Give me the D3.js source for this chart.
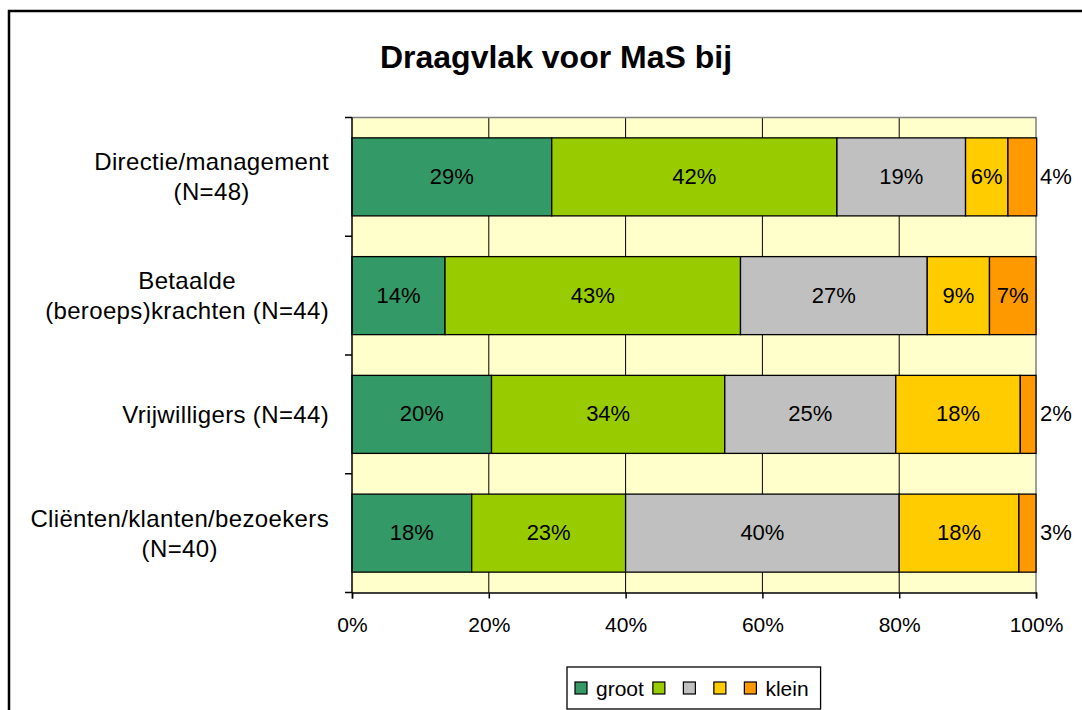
<!DOCTYPE html>
<html>
<head>
<meta charset="utf-8">
<script src="https://cdn.jsdelivr.net/npm/d3@7"></script>
<style>
body { margin: 0; background: #fff; }
text { font-family: "Liberation Sans", Arial, sans-serif; fill: #000; }
</style>
</head>
<body>
<svg width="1082" height="710"></svg>
<script>
var categories = ["Directie/management\n(N=48)", "Betaalde\n(beroeps)krachten (N=44)", "Vrijwilligers (N=44)", "Cliënten/klanten/bezoekers\n(N=40)"];
var seriesNames = ["groot", "", "", "", "klein"];
var seriesColors = ["#339966", "#99cc00", "#c0c0c0", "#ffcc00", "#ff9900"];
// percentages per category, in series order (groot ... klein)
var s1 = [29.2, 41.7, 18.8, 6.2, 4.2];
var s2 = [13.6, 43.2, 27.3, 9.1, 6.8];
var s3 = [20.4, 34.1, 25.0, 18.2, 2.3];
var s4 = [17.5, 22.5, 40.0, 17.5, 2.5];
var values = [s1, s2, s3, s4];
var xTicks = [0, 20, 40, 60, 80, 100];

var svg = d3.select("svg");

// outer chart border (runs off the right and bottom)
svg.append("rect")
    .attr("x", 9).attr("y", 11)
    .attr("width", 1200).attr("height", 800)
    .attr("fill", "none")
    .attr("stroke", "#000")
    .attr("stroke-width", 2.5);

svg.append("text")
    .text("Draagvlak voor MaS bij")
    .attr("x", 556).attr("y", 68)
    .attr("text-anchor", "middle")
    .style("font-size", "32px")
    .style("font-weight", "bold");

var pLeft = 352, pRight = 1036, pTop = 117.5, pBottom = 592.5;

var x = d3.scaleLinear().domain([0, 100]).range([pLeft, pRight]);
var y = d3.scaleBand().domain(categories).range([pTop, pBottom])
    .paddingInner(0.343).paddingOuter(0.1715);

// plot area
svg.append("rect")
    .attr("x", pLeft).attr("y", pTop)
    .attr("width", pRight - pLeft).attr("height", pBottom - pTop)
    .attr("fill", "#ffffcc");

// gridlines
svg.selectAll(".grid").data(xTicks.slice(1, -1)).enter()
    .append("line")
    .attr("x1", function (d) { return x(d); })
    .attr("x2", function (d) { return x(d); })
    .attr("y1", pTop).attr("y2", pBottom)
    .attr("stroke", "#000").attr("stroke-width", 1);

// plot border top/right in grey
svg.append("path")
    .attr("d", "M" + pLeft + "," + pTop + "H" + pRight + "V" + pBottom)
    .attr("fill", "none").attr("stroke", "#808080").attr("stroke-width", 1.5);

// stacked segments
var rows = values.map(function (vals, i) {
    var start = 0;
    return vals.map(function (v, j) {
        var seg = { cat: categories[i], series: j, v: v, x0: start, x1: start + v };
        start += v;
        return seg;
    });
});

var bars = svg.selectAll(".row").data(rows).enter().append("g");

bars.selectAll("rect").data(function (d) { return d; }).enter()
    .append("rect")
    .attr("x", function (d) { return x(d.x0); })
    .attr("y", function (d) { return y(d.cat); })
    .attr("width", function (d) { return x(d.x1) - x(d.x0); })
    .attr("height", y.bandwidth())
    .attr("fill", function (d) { return seriesColors[d.series]; })
    .attr("stroke", "#000")
    .attr("stroke-width", 1.3);

bars.selectAll("text").data(function (d) { return d; }).enter()
    .append("text")
    .text(function (d) { return Math.round(d.v) + "%"; })
    .attr("x", function (d) {
        return d.v < 5 ? x(100) + 4 : (x(d.x0) + x(d.x1)) / 2;
    })
    .attr("y", function (d) { return y(d.cat) + y.bandwidth() / 2 + 7; })
    .attr("text-anchor", function (d) { return d.v < 5 ? "start" : "middle"; })
    .style("font-size", "22px");

// y axis
svg.append("line")
    .attr("x1", pLeft).attr("x2", pLeft)
    .attr("y1", pTop).attr("y2", pBottom)
    .attr("stroke", "#000").attr("stroke-width", 1.5);

var step = y.step();
svg.selectAll(".ytick").data(d3.range(categories.length + 1)).enter()
    .append("line")
    .attr("x1", pLeft - 7).attr("x2", pLeft)
    .attr("y1", function (i) { return pTop + i * step; })
    .attr("y2", function (i) { return pTop + i * step; })
    .attr("stroke", "#000").attr("stroke-width", 1.5);

// category labels: each block centred on itself, right edge at 329
categories.forEach(function (c) {
    var lines = c.split("\n");
    var g = svg.append("text")
        .attr("text-anchor", "middle")
        .style("font-size", "24px")
        .style("letter-spacing", "0.35px");
    var cy = y(c) + y.bandwidth() / 2;
    var tspans = lines.map(function (l, i) {
        return g.append("tspan")
            .text(l)
            .attr("y", cy + (i - (lines.length - 1) / 2) * 30 + 8.5);
    });
    var w = d3.max(tspans, function (t) { return t.node().getComputedTextLength(); });
    tspans.forEach(function (t) { t.attr("x", 329 - w / 2); });
});

// x axis
var xAxis = svg.append("g")
    .attr("transform", "translate(0," + pBottom + ")")
    .call(d3.axisBottom(x).tickValues(xTicks).tickSize(6).tickPadding(19)
        .tickFormat(function (d) { return d + "%"; }));
xAxis.select(".domain").attr("stroke", "#000").attr("stroke-width", 1.5);
xAxis.selectAll(".tick line").attr("stroke", "#000").attr("stroke-width", 1.5);
xAxis.selectAll(".tick text")
    .style("font-size", "21px")
    .style("font-family", "'Liberation Sans', Arial, sans-serif")
    .attr("fill", "#000");

// legend
var legend = svg.append("g");
var legendBox = legend.append("rect")
    .attr("y", 667).attr("height", 42)
    .attr("fill", "#fff").attr("stroke", "#000").attr("stroke-width", 1.3);
var lx = 575;
seriesNames.forEach(function (name, i) {
    legend.append("rect")
        .attr("x", lx).attr("y", 682)
        .attr("width", 12).attr("height", 12)
        .attr("fill", seriesColors[i])
        .attr("stroke", "#000").attr("stroke-width", 1.2);
    if (name) {
        var t = legend.append("text")
            .text(name)
            .attr("x", lx + 21).attr("y", 696)
            .style("font-size", "21px");
        var tw = t.node().getComputedTextLength();
        lx += 21 + tw + 9;
    } else {
        lx += 30.5;
    }
});
legendBox.attr("x", 567).attr("width", lx - 9 + 12 - 567);
</script>
</body>
</html>
